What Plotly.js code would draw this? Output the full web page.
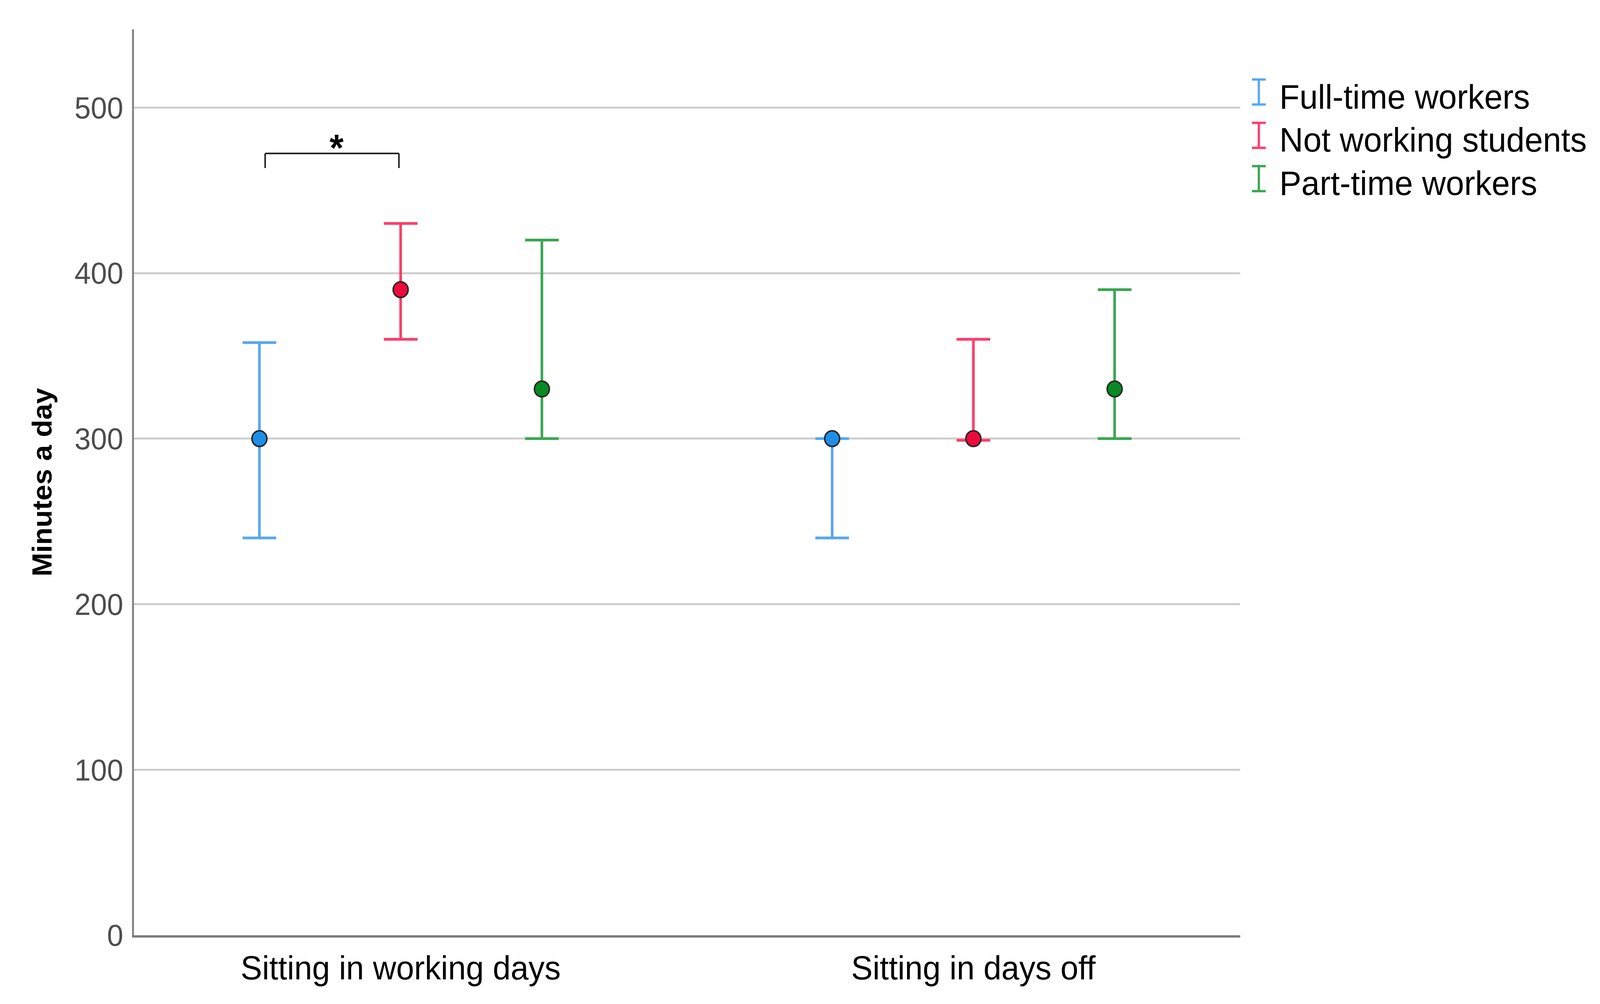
<!DOCTYPE html>
<html>
<head>
<meta charset="utf-8">
<script src="https://cdn.plot.ly/plotly-3.0.1.min.js"></script>
<style>html,body{margin:0;padding:0;background:#fff;overflow:hidden;}#wrap{position:relative;overflow:hidden;}#chart{width:4277px;height:2570px;transform-origin:0 0;position:absolute;left:0;top:0;}</style>
</head>
<body>
<div id="wrap"><div id="chart"></div></div>
<script>
// ---- data ----
const categories = ['Sitting in working days', 'Sitting in days off'];
const groupNames = ['Full-time workers', 'Not working students', 'Part-time workers'];

const fullTimeMean  = [300, 300];
const fullTimeUpper = [358, 300];
const fullTimeLower = [240, 240];

const studentMean  = [390, 300];
const studentUpper = [430, 360];
const studentLower = [360, 299];

const partTimeMean  = [330, 330];
const partTimeUpper = [420, 390];
const partTimeLower = [300, 300];

const yTickVals = [0, 100, 200, 300, 400, 500];
const significanceLabel = '*';

// ---- styling / layout ----
const W = 4277, H = 2570;
// fill the actual viewport with the fixed-size figure
const vw = window.innerWidth || document.documentElement.clientWidth || W;
const vh = window.innerHeight || document.documentElement.clientHeight || H;
const sx = vw / W, sy = vh / H;
const wrap = document.getElementById('wrap');
wrap.style.width = vw + 'px';
wrap.style.height = vh + 'px';
if (Math.abs(sx - 1) > 0.001 || Math.abs(sy - 1) > 0.001) {
  document.getElementById('chart').style.transform = 'scale(' + sx + ',' + sy + ')';
}

const M = {l: 358, r: 962, t: 75, b: 176};
const plotW = W - M.l - M.r, plotH = H - M.t - M.b;
const px2x = px => (px - M.l) / plotW;
const px2y = py => (H - M.b - py) / plotH;

const FONT = 'Liberation Sans, Arial, sans-serif';
const offsets = [-0.2466, 0, 0.2466];
const errColors = ['#56a8f0', '#ff3d6a', '#3aa653'];
const markColors = ['#1e8fe6', '#ee0a3c', '#078a22'];

const series = [
  {mean: fullTimeMean, up: fullTimeUpper, lo: fullTimeLower},
  {mean: studentMean, up: studentUpper, lo: studentLower},
  {mean: partTimeMean, up: partTimeUpper, lo: partTimeLower}
];

const traces = series.map((s, g) => ({
  type: 'scatter',
  mode: 'markers',
  name: groupNames[g],
  showlegend: false,
  x: categories.map((c, i) => i + offsets[g]),
  y: s.mean,
  text: categories,
  error_y: {
    type: 'data',
    symmetric: false,
    array: s.mean.map((m, i) => s.up[i] - m),
    arrayminus: s.mean.map((m, i) => m - s.lo[i]),
    color: errColors[g],
    thickness: 7,
    width: 45
  },
  marker: {size: 40, color: markColors[g], line: {color: '#262626', width: 4}},
  cliponaxis: false
}));

const shapes = [];
const annotations = [];

// significance bracket between first two groups in first category
const bx0 = offsets[0] + 0.01, bx1 = offsets[1] - 0.003;
const bTop = 472.3, bBot = 463.5;
[[bx0, bBot, bx0, bTop], [bx0, bTop, bx1, bTop], [bx1, bTop, bx1, bBot]].forEach(c => {
  shapes.push({type: 'line', xref: 'x', yref: 'y', x0: c[0], y0: c[1], x1: c[2], y1: c[3],
    line: {color: '#1a1a1a', width: 4}});
});
annotations.push({xref: 'x', yref: 'y', x: (bx0 + bx1) / 2 + 0.008, y: 476, text: '<b>' + significanceLabel + '</b>',
  showarrow: false, xanchor: 'center', yanchor: 'middle', font: {family: FONT, size: 96, color: '#000'}});

// manual legend with I-beam glyphs
const glyphCx = 3365, capHalf = 18.5, glyphHalf = 32;
const rowCenters = [235.6, 346.4, 457.2];
groupNames.forEach((name, g) => {
  const cy = rowCenters[g];
  const lc = {color: errColors[g], width: 6};
  shapes.push({type: 'line', xref: 'paper', yref: 'paper', x0: px2x(glyphCx), x1: px2x(glyphCx), y0: px2y(cy - glyphHalf), y1: px2y(cy + glyphHalf), line: lc});
  shapes.push({type: 'line', xref: 'paper', yref: 'paper', x0: px2x(glyphCx - capHalf), x1: px2x(glyphCx + capHalf), y0: px2y(cy - glyphHalf), y1: px2y(cy - glyphHalf), line: lc});
  shapes.push({type: 'line', xref: 'paper', yref: 'paper', x0: px2x(glyphCx - capHalf), x1: px2x(glyphCx + capHalf), y0: px2y(cy + glyphHalf), y1: px2y(cy + glyphHalf), line: lc});
  annotations.push({xref: 'paper', yref: 'paper', x: px2x(3418), y: px2y(cy + 11.5), text: name,
    showarrow: false, xanchor: 'left', yanchor: 'middle', font: {family: FONT, size: 88, color: '#000'}});
});

const layout = {
  width: W, height: H,
  margin: M,
  paper_bgcolor: '#ffffff',
  plot_bgcolor: '#ffffff',
  showlegend: false,
  font: {family: FONT},
  xaxis: {
    range: [-0.4657, 1.4657],
    tickvals: categories.map((c, i) => i),
    ticktext: categories,
    showgrid: false, zeroline: false,
    showline: true, linecolor: '#7d7d7d', linewidth: 6,
    ticks: '',
    tickfont: {family: FONT, size: 86, color: '#000'},
    ticklabelstandoff: 4,
    automargin: false
  },
  yaxis: {
    range: [0, 547.3],
    tickvals: yTickVals,
    ticktext: yTickVals.map(String),
    showgrid: true, gridcolor: '#cdcdcd', gridwidth: 5,
    zeroline: false,
    showline: true, linecolor: '#858585', linewidth: 5,
    ticks: '',
    tickfont: {family: FONT, size: 78, color: '#4d4d4d'},
    ticklabelstandoff: 8,
    title: {text: '<b>Minutes a day</b>', font: {family: FONT, size: 73, color: '#000'}, standoff: 38},
    automargin: false
  },
  shapes: shapes,
  annotations: annotations
};

Plotly.newPlot('chart', traces, layout, {displayModeBar: false, staticPlot: true});
</script>
</body>
</html>
